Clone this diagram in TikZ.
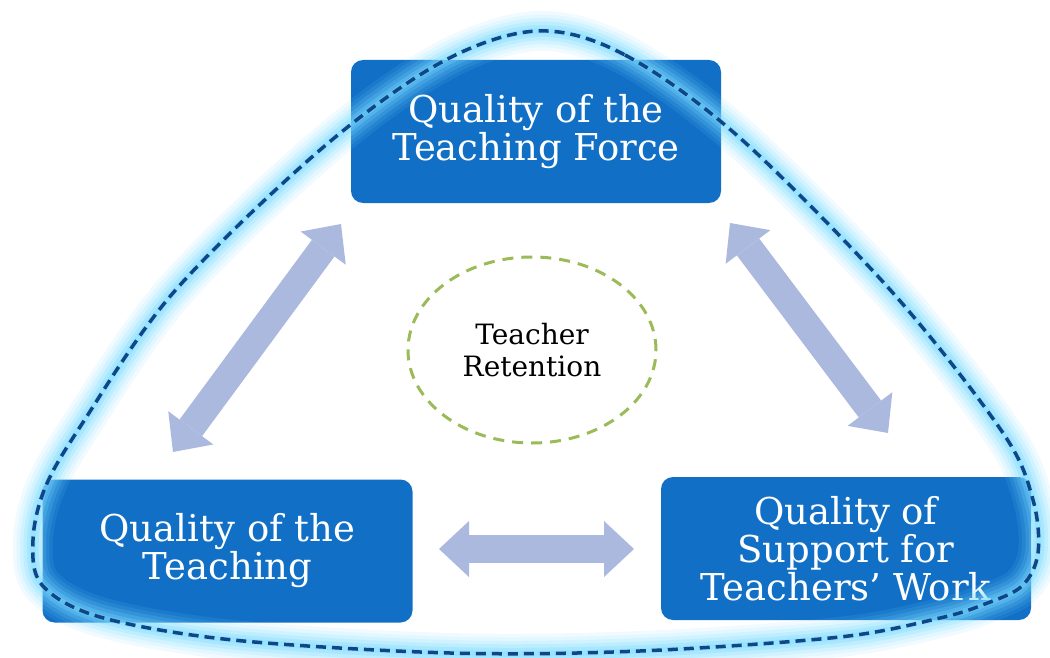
\documentclass[tikz,border=0pt]{standalone}
\usepackage{fontspec}
\setmainfont{DejaVu Serif}
\usetikzlibrary{arrows.meta,shapes.geometric}

\definecolor{boxblue}{RGB}{17,112,198}
\definecolor{rimblue}{RGB}{16,70,135}
\definecolor{glowcyan}{RGB}{120,218,255}
\definecolor{arrowblue}{RGB}{172,185,222}
\definecolor{ringgreen}{RGB}{155,187,89}

% the rounded triangle round the three factors
\def\rim{plot[smooth cycle,tension=.55] coordinates {(537,31) (625,55) (740,138) (893,293)
  (1003,433) (1033,500) (1038,553) (1022,586) (985,604) (940,618) (840,637) (640,651) (450,653)
  (233,640) (100,617) (42,585) (33,540) (45,488) (80,427) (173,293) (320,150) (440,63)}}

\begin{document}
\begin{tikzpicture}[x=1pt,y=-1pt,
  factor/.style={fill=boxblue, rounded corners=12pt, minimum width=370pt,
    minimum height=143pt, align=center, text=white,
    font=\fontsize{37}{38}\selectfont},
  twoway/.style={draw=arrowblue, line width=28pt,
    {Triangle[width=56pt,length=30pt,line width=0pt]}-{Triangle[width=56pt,length=30pt,line width=0pt]}}]
\useasboundingbox (0,0) rectangle (1050,658);

\node[factor] (force) at (536,131.5) {Quality of the\\Teaching Force};
\node[factor] (teaching) at (227.5,551) {Quality of the\\Teaching};
\node[factor] (support) at (846,548.5) {Quality of\\Support for\\Teachers’ Work};

% glow, then the dashed rim
\foreach \w/\o in {40/.1,33/.12,26/.16,19/.22,12/.3,6/.35}
  \draw[glowcyan, line width=\w pt, opacity=\o] \rim;
\draw[rimblue, line width=3.5pt, dash pattern=on 10pt off 6pt] \rim;

\node[ellipse, draw=ringgreen, line width=3pt, dash pattern=on 11pt off 8pt,
  minimum width=248pt, minimum height=186pt, align=center,
  font=\fontsize{28}{32}\selectfont] (retention) at (532,350) {Teacher\\Retention};

\coordinate (lt1) at (341,224);
\coordinate (lt2) at (173,452);
\coordinate (rt1) at (730,223);
\coordinate (rt2) at (888,433);
\coordinate (bt1) at (439,549);
\coordinate (bt2) at (634,549);
\draw[twoway] (lt1) -- (lt2);
\draw[twoway] (rt1) -- (rt2);
\draw[twoway] (bt1) -- (bt2);
\end{tikzpicture}
\end{document}
